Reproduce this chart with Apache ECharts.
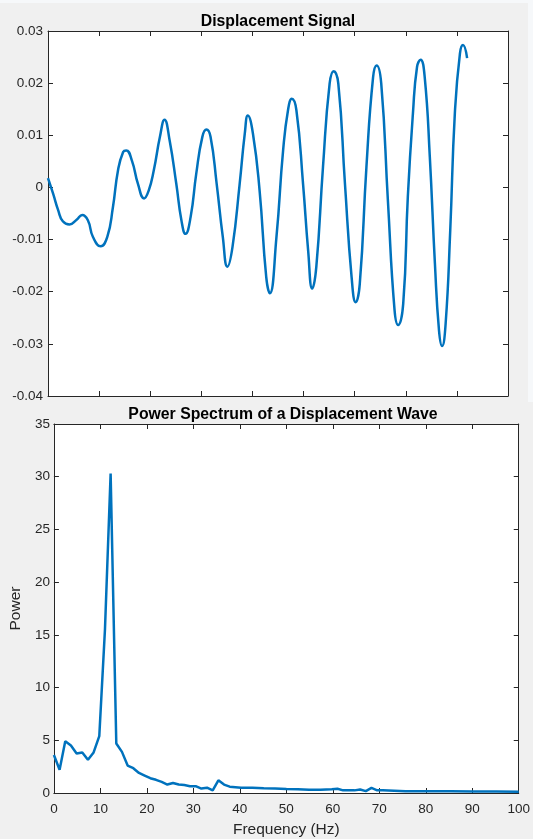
<!DOCTYPE html>
<html>
<head>
<meta charset="utf-8">
<script src="https://cdn.jsdelivr.net/npm/echarts@6/dist/echarts.min.js"></script>
<style>
  html, body { margin: 0; padding: 0; background: #f0f0f0; }
  #chart { width: 533px; height: 839px; }
</style>
</head>
<body>
<div id="chart"></div>
<script>
// displacement signal (x in axis-tick units, 0..9; no tick labels shown)
var sigT = [0.00, 0.10, 0.20, 0.29, 0.42, 0.56, 0.67, 0.78, 0.88, 1.03, 1.16, 1.27, 1.37, 1.47, 1.53, 1.64,
    1.76, 1.88, 1.97, 2.07, 2.19, 2.28, 2.38, 2.51, 2.61, 2.69, 2.79, 2.90, 3.02, 3.10, 3.18, 3.30,
    3.42, 3.51, 3.61, 3.75, 3.85, 3.91, 4.01, 4.14, 4.27, 4.34, 4.47, 4.60, 4.70, 4.77, 4.86, 4.99,
    5.09, 5.17, 5.25, 5.38, 5.51, 5.59, 5.68, 5.81, 5.94, 6.02, 6.10, 6.23, 6.36, 6.43, 6.52, 6.65,
    6.78, 6.85, 6.95, 7.04, 7.14, 7.22, 7.29, 7.37, 7.47, 7.57, 7.65, 7.71, 7.78, 7.87, 7.96, 8.06,
    8.12, 8.20];
var sigY = [0.0018, -0.0012, -0.0044, -0.0065, -0.0071, -0.0062, -0.0053, -0.0063, -0.0095, -0.0113, -0.0095, -0.0038, 0.0033, 0.0068, 0.0071, 0.0052,
    0.0007, -0.0021, -0.0006, 0.0033, 0.0097, 0.0130, 0.0090, 0.0007, -0.0063, -0.0089, -0.0057, 0.0026, 0.0097, 0.0111, 0.0097, 0.0007,
    -0.0095, -0.0152, -0.0114, 0.0007, 0.0103, 0.0138, 0.0103, -0.0006, -0.0172, -0.0203, -0.0095, 0.0071, 0.0151, 0.0170, 0.0148, 0.0007,
    -0.0121, -0.0194, -0.0152, 0.0039, 0.0199, 0.0223, 0.0199, 0.0007, -0.0172, -0.0220, -0.0185, 0.0039, 0.0211, 0.0234, 0.0199, -0.0025,
    -0.0235, -0.0264, -0.0223, -0.0018, 0.0142, 0.0231, 0.0245, 0.0212, 0.0059, -0.0146, -0.0274, -0.0304, -0.0261, -0.0082, 0.0142, 0.0257,
    0.0273, 0.0248];

// power spectrum
var freq = [0, 1.22, 2.44, 3.66, 4.88, 6.1, 7.32, 8.54, 9.76, 10.98, 12.2, 13.42, 14.64, 15.86, 17.08, 18.3,
    19.52, 20.74, 21.96, 23.18, 24.4, 25.62, 26.84, 28.06, 29.28, 30.5, 31.72, 32.94, 34.16, 35.38, 36.6, 37.82,
    39.04, 40.26, 42.7, 45.14, 47.58, 50.02, 52.46, 54.9, 57.34, 59.78, 61.0, 62.22, 64.66, 65.88, 67.1, 68.32,
    69.54, 70.76, 73.2, 75.64, 80.52, 85.4, 90.28, 95.16, 100];
var power = [3.6, 2.2, 4.9, 4.5, 3.75, 3.85, 3.15, 3.85, 5.4, 15.5, 30.3, 4.7, 3.9, 2.6, 2.35, 1.9,
    1.65, 1.4, 1.25, 1.05, 0.8, 0.95, 0.8, 0.75, 0.65, 0.65, 0.42, 0.5, 0.25, 1.2, 0.8, 0.6,
    0.55, 0.5, 0.5, 0.45, 0.42, 0.38, 0.35, 0.32, 0.32, 0.36, 0.4, 0.25, 0.25, 0.33, 0.18, 0.48,
    0.25, 0.25, 0.22, 0.17, 0.17, 0.16, 0.15, 0.14, 0.13];

var axisCol = '#262626';
var font = '"Liberation Sans", Arial, Helvetica, sans-serif';
var lineCol = '#0072bd';

function xAx(grid, pos, min, max, step, showLabel, extra) {
    var a = {
        gridIndex: grid, type: 'value', position: pos, min: min, max: max, interval: step,
        axisLine: {show: true, onZero: false, lineStyle: {color: axisCol, width: 1}},
        axisTick: {show: true, inside: true, length: 5, lineStyle: {color: axisCol}},
        axisLabel: {show: showLabel, color: axisCol, fontSize: 13.5, fontFamily: font, margin: 9},
        splitLine: {show: false}
    };
    return Object.assign(a, extra || {});
}
function yAx(grid, pos, min, max, step, showLabel, margin, extra) {
    var a = {
        gridIndex: grid, type: 'value', position: pos, min: min, max: max, interval: step,
        axisLine: {show: true, onZero: false, lineStyle: {color: axisCol, width: 1}},
        axisTick: {show: true, inside: true, length: 5, lineStyle: {color: axisCol}},
        axisLabel: {show: showLabel, color: axisCol, fontSize: 13.5, fontFamily: font, margin: margin},
        splitLine: {show: false}
    };
    return Object.assign(a, extra || {});
}

var chart = echarts.init(document.getElementById('chart'), null, {renderer: 'canvas'});
var option = {
    backgroundColor: '#f0f0f0',
    animation: false,
    graphic: [
        {type: 'rect', shape: {x: 528, y: 0, width: 5, height: 402}, style: {fill: '#f6f8fa'}, silent: true},
        {type: 'rect', shape: {x: 0, y: 0, width: 533, height: 3}, style: {fill: '#f6f8fa'}, silent: true}
    ],
    title: [
        {text: 'Displacement Signal', left: 273, top: 9, textAlign: 'center',
            textStyle: {fontSize: 15.8, fontWeight: 'bold', color: '#000', fontFamily: font}},
        {text: 'Power Spectrum of a Displacement Wave', left: 278, top: 402, textAlign: 'center',
            textStyle: {fontSize: 15.8, fontWeight: 'bold', color: '#000', fontFamily: font}}
    ],
    grid: [
        {left: 48, top: 31, width: 460, height: 365, show: true, backgroundColor: '#fff', borderWidth: 0},
        {left: 53, top: 424, width: 467, height: 371, show: true, backgroundColor: '#fff', borderWidth: 0}
    ],
    xAxis: [
        xAx(0, 'bottom', 0, 9, 1, false),
        xAx(0, 'top', 0, 9, 1, false),
        xAx(1, 'bottom', 0, 100, 10, true, {
            name: 'Frequency (Hz)', nameLocation: 'middle', nameGap: 29,
            nameTextStyle: {color: axisCol, fontSize: 15.5, fontFamily: font}
        }),
        xAx(1, 'top', 0, 100, 10, false)
    ],
    yAxis: [
        yAx(0, 'left', -0.04, 0.03, 0.01, true, 5),
        yAx(0, 'right', -0.04, 0.03, 0.01, false, 5),
        yAx(1, 'left', 0, 35, 5, true, 4, {
            name: 'Power', nameLocation: 'middle', nameGap: 23,
            nameTextStyle: {color: axisCol, fontSize: 15.5, fontFamily: font}
        }),
        yAx(1, 'right', 0, 35, 5, false, 4)
    ],
    series: [
        {
            type: 'line', xAxisIndex: 0, yAxisIndex: 0,
            data: sigT.map(function (t, i) { return [t, sigY[i]]; }),
            smooth: 0.5, showSymbol: false,
            lineStyle: {color: lineCol, width: 2.5}
        },
        {
            type: 'line', xAxisIndex: 2, yAxisIndex: 2,
            data: freq.map(function (f, i) { return [f, power[i]]; }),
            smooth: false, showSymbol: false,
            lineStyle: {color: lineCol, width: 2.5}
        }
    ]
};
chart.setOption(option);
</script>
</body>
</html>
